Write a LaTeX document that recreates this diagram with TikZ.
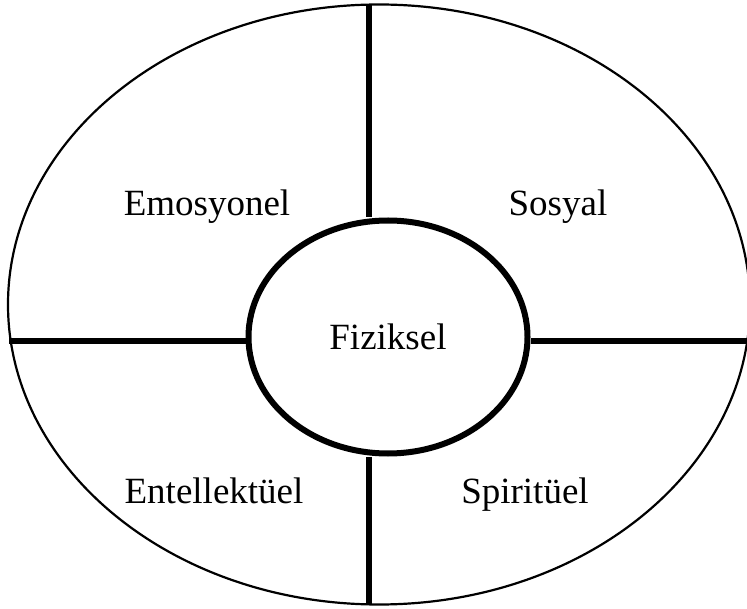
\documentclass[tikz,border=0pt]{standalone}
\usepackage{fontspec}
\setmainfont{Liberation Serif}
\usetikzlibrary{shapes.geometric}
\begin{document}
\begin{tikzpicture}[x=1pt, y=-1pt, font=\fontsize{37}{44}\selectfont, line join=round,
		lbl/.style={anchor=base}, bar/.style={line width=6pt}]
		\useasboundingbox (0,0) rectangle (747,609);
		\draw[line width=2.2pt] (379,304.5) ellipse (371 and 300);
		\node[draw, ellipse, line width=6pt, minimum width=279, minimum height=233, inner sep=0pt] (fiz) at (388,337) {};
		\node[lbl] (fizt) at (388,350) {Fiziksel};
		% dividing bars
		\coordinate (top) at (369,4);
		\coordinate (bot) at (369,605);
		\coordinate (lft) at (9,341);
		\coordinate (rgt) at (750,341);
		\draw[bar] (top) -- (top |- fiz.north);
		\draw[bar] (bot) -- (bot |- fiz.south);
		\draw[bar] (lft) -- (lft -| fiz.west);
		\draw[bar] (rgt) -- (rgt -| fiz.east);
		% quarter labels
		\node[lbl] (emo) at (207,216) {Emosyonel};
		\node[lbl] (sos) at (558,216) {Sosyal};
		\node[lbl] (ent) at (214,503) {Entellektüel};
		\node[lbl] (spi) at (525,503) {Spiritüel};
	\end{tikzpicture}
\end{document}
